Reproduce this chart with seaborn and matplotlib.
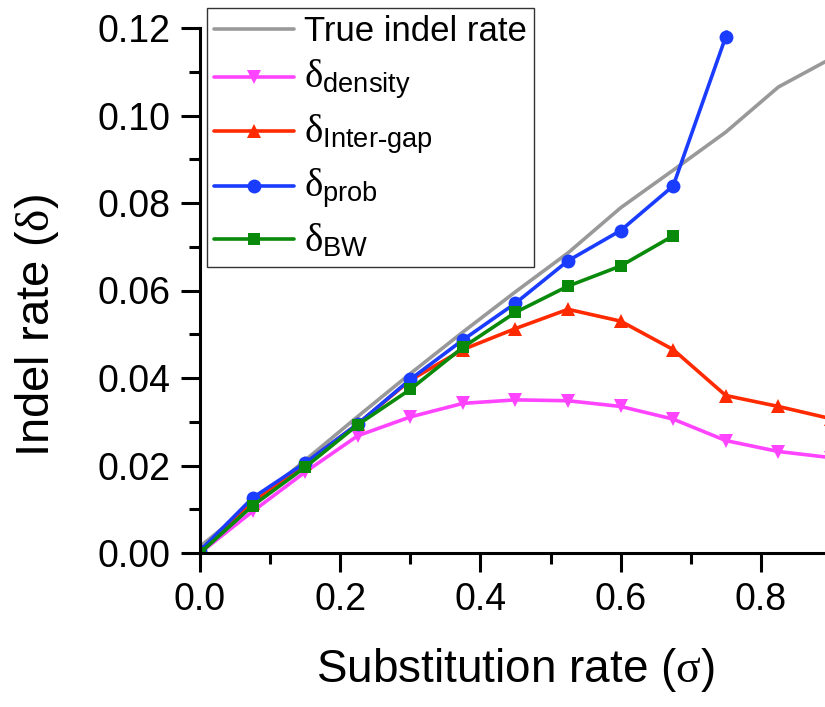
import numpy as np
import pandas as pd
import matplotlib
matplotlib.use("Agg")
import matplotlib.pyplot as plt
import seaborn as sns

# Substitution rates (sigma) at which the indel rate was estimated
sigma = [0.0, 0.075, 0.15, 0.225, 0.3, 0.375, 0.45, 0.525, 0.6, 0.675, 0.75, 0.825, 0.9]

true_rate = [0.0015, 0.0112, 0.0212, 0.0312, 0.0410, 0.0505, 0.0597, 0.0686, 0.0789, 0.0875, 0.0962, 0.1065, 0.1130]
d_density = [0.0, 0.0095, 0.0185, 0.0268, 0.0311, 0.0342, 0.0350, 0.0348, 0.0335, 0.0306, 0.0257, 0.0232, 0.0218]
d_intergap = [0.0, 0.0115, 0.0205, 0.0295, 0.0395, 0.0465, 0.0513, 0.0557, 0.0530, 0.0465, 0.0360, 0.0335, 0.0307]
sigma_prob = sigma[:11]
d_prob = [0.0005, 0.0126, 0.0206, 0.0295, 0.0397, 0.0487, 0.0571, 0.0668, 0.0737, 0.0839, 0.1180]
prob_err = [0, 0, 0, 0, 0, 0, 0, 0, 0, 0, 0.0015]
sigma_bw = sigma[:10]
d_bw = [0.0, 0.0108, 0.0196, 0.0293, 0.0374, 0.0470, 0.0550, 0.0610, 0.0656, 0.0725]

labels = ["True indel rate",
          r"$\mathrm{\delta}_{\mathsf{density}}$",
          r"$\mathrm{\delta}_{\mathsf{Inter}\mathsf{\text{-}}\mathsf{gap}}$",
          r"$\mathrm{\delta}_{\mathsf{prob}}$",
          r"$\mathrm{\delta}_{\mathsf{BW}}$"]
colors = ["#999999", "#ff44ff", "#ff2a00", "#1a3cff", "#0a8a0a"]
markers = [None, "v", "^", "o", "s"]

sns.set_theme(style="white")
plt.rcParams["font.family"] = ["Liberation Sans", "DejaVu Sans"]
plt.rcParams["mathtext.fontset"] = "custom"
plt.rcParams["mathtext.rm"] = "Liberation Serif"
plt.rcParams["mathtext.it"] = "Liberation Serif:italic"
plt.rcParams["mathtext.sf"] = "Liberation Sans"
plt.rcParams["text.color"] = "black"
plt.rcParams["axes.labelcolor"] = "black"

W, H = 825, 707
fig = plt.figure(figsize=(W / 100, H / 100), dpi=100)
x0, y0 = 200, 553
px_per_x = 701.0
px_per_y = 4375.0
ax = fig.add_axes([x0 / W, 1 - y0 / H, 0.9 * px_per_x / W, 0.12 * px_per_y / H])

series = [(sigma, true_rate), (sigma, d_density), (sigma, d_intergap),
          (sigma_prob, d_prob), (sigma_bw, d_bw)]
for (xs, ys), lab, col, mk in zip(series, labels, colors, markers):
    df = pd.DataFrame({"sigma": xs, "rate": ys})
    if "prob" in lab:
        # upper error bar on the blue estimate
        ax.errorbar(xs, ys, yerr=[np.zeros(len(prob_err)), prob_err], fmt="none",
                    ecolor=col, elinewidth=2.2, capsize=0, zorder=2)
    sns.lineplot(data=df, x="sigma", y="rate", ax=ax, color=col, label=lab,
                 marker=mk, markersize=10 if mk != "s" else 9,
                 markeredgewidth=0, linewidth=2.6, clip_on=True)

ax.set_xlim(0, 0.9)
ax.set_ylim(0, 0.12)
ax.set_xticks([0.0, 0.2, 0.4, 0.6, 0.8])
ax.set_xticklabels(["0.0", "0.2", "0.4", "0.6", "0.8"])
ax.set_xticks(np.arange(0.1, 0.9, 0.2), minor=True)
ax.set_yticks(np.arange(0, 0.1201, 0.02))
ax.set_yticklabels([f"{v:.2f}" for v in np.arange(0, 0.1201, 0.02)])
ax.set_yticks(np.arange(0.01, 0.12, 0.02), minor=True)

for s in ["top", "right"]:
    ax.spines[s].set_visible(False)
for s in ["left", "bottom"]:
    ax.spines[s].set_color("black")
    ax.spines[s].set_linewidth(2.2)

ax.tick_params(axis="both", which="major", direction="out", length=14, width=2.2,
               labelsize=27, pad=7, colors="black", left=True, bottom=True)
ax.tick_params(axis="both", which="minor", direction="out", length=8, width=2.2,
               colors="black", left=True, bottom=True)

ax.set_xlabel(r"Substitution rate ($\mathrm{\sigma}$)", fontsize=33, labelpad=20)
ax.set_ylabel(r"Indel rate ($\mathrm{\delta}$)", fontsize=34)
ax.yaxis.set_label_coords(-0.22, 0.434)

leg = ax.legend(loc="upper left", bbox_to_anchor=(207 / W, 1 - 8 / H),
                bbox_transform=fig.transFigure, fontsize=25, frameon=True,
                fancybox=False, edgecolor="black", borderaxespad=0,
                handlelength=2.3, handletextpad=0.3, borderpad=0.2,
                labelspacing=0.3)
leg.get_frame().set_linewidth(1.0)
for t in leg.get_texts()[1:]:
    t.set_fontsize(28)

fig.savefig("out.png", dpi=100)
